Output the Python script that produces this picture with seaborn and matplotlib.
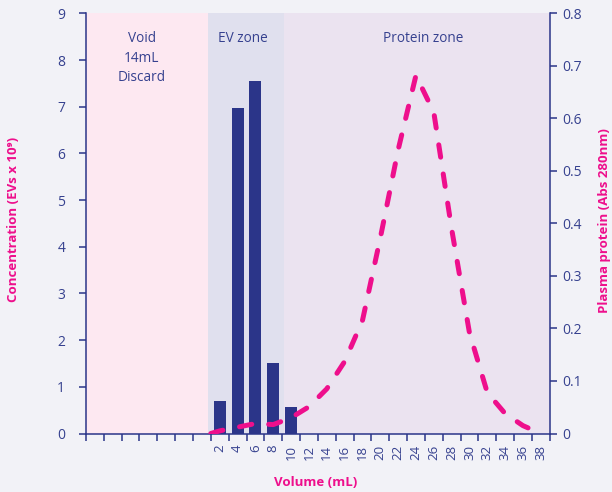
import matplotlib
matplotlib.use("Agg")
import matplotlib.pyplot as plt
import seaborn as sns
import pandas as pd

# ── Data ───────────────────────────────────────────────────────────────────────
bar_volume = [2, 4, 6, 8, 10]
bar_conc   = [0.69, 6.97, 7.55, 1.50, 0.56]

curve_volume  = [1, 2, 4, 6, 8, 10, 12, 14, 16, 18, 20, 22, 24, 26, 28, 30, 32, 34, 36, 38]
curve_protein = [0.0, 0.005, 0.012, 0.019, 0.017, 0.030, 0.051, 0.085, 0.137, 0.215,
                 0.372, 0.540, 0.682, 0.612, 0.390, 0.192, 0.078, 0.038, 0.015, 0.0]

tick_labels = [str(v) for v in range(2, 40, 2)]
left_ticks  = list(range(0, 10))
right_ticks = [0, 0.1, 0.2, 0.3, 0.4, 0.5, 0.6, 0.7, 0.8]
right_tick_labels = ["0", "0.1", "0.2", "0.3", "0.4", "0.5", "0.6", "0.7", "0.8"]

zones = [("Void\n14mL\nDiscard", -13, 0.68, "#fde8f1"),
         ("EV zone", 0.68, 9.17, "#e0e0ee"),
         ("Protein zone", 9.17, 39, "#ebe3f0")]
zone_text_x = [-6.75, 4.6, 24.8]

# ── Style ──────────────────────────────────────────────────────────────────────
NAVY  = "#2b3589"
TEXT  = "#36418f"
PINK  = "#ee0f8c"
BG    = "#f2f2f7"

sns.set_style("white")
plt.rcParams["font.family"] = ["Open Sans", "DejaVu Sans"]

fig = plt.figure(figsize=(6.12, 4.92), dpi=100, facecolor=BG)
ax = fig.add_axes([0.1405, 0.1189, 0.7577, 0.8537])
ax.set_facecolor("none")
ax2 = ax.twinx()

# zones
for (label, x0, x1, col), tx in zip(zones, zone_text_x):
    ax.axvspan(x0, x1, color=col, zorder=0, lw=0)
    ax.text(tx, 0.958, label, transform=ax.get_xaxis_transform(),
            ha="center", va="top", color=TEXT, fontsize=9.8, linespacing=1.4)

# bars
df_bar = pd.DataFrame({"volume": bar_volume, "conc": bar_conc})
sns.barplot(data=df_bar, x="volume", y="conc", native_scale=True, width=0.675,
            color=NAVY, saturation=1, linewidth=0, ax=ax, zorder=2)

# protein curve
df_curve = pd.DataFrame({"volume": curve_volume, "protein": curve_protein})
sns.lineplot(data=df_curve, x="volume", y="protein", ax=ax2, color=PINK,
             linewidth=3.6, linestyle=(0, (2.5, 3.4)), dash_capstyle="round",
             solid_capstyle="round", zorder=3)

# ── Axes ───────────────────────────────────────────────────────────────────────
ax.set_xlim(-13, 39)
ax.set_ylim(0, 9)
ax2.set_ylim(0, 0.8)

ax.set_xticks(list(range(-13, 40, 2)))
ax.set_xticklabels([])
ax.set_xticks(list(range(2, 40, 2)), minor=True)
ax.set_xticklabels(tick_labels, minor=True, rotation=90)
ax.tick_params(axis="x", which="major", direction="out", length=5, width=1.1,
               color=NAVY, bottom=True)
ax.tick_params(axis="x", which="minor", length=0, pad=8, labelsize=9.5,
               labelcolor=TEXT)

ax.set_yticks(left_ticks)
ax.tick_params(axis="y", direction="out", length=5, width=1.1, color=NAVY,
               left=True, pad=10, labelsize=10, labelcolor=TEXT)
ax2.set_yticks(right_ticks)
ax2.set_yticklabels(right_tick_labels)
ax2.tick_params(axis="y", direction="out", length=5, width=1.1, color=NAVY,
                right=True, pad=4, labelsize=10, labelcolor=TEXT)

for a in (ax, ax2):
    a.set_xlabel("")
    a.set_ylabel("")
    a.spines["top"].set_visible(False)
    for side in ("left", "right", "bottom"):
        a.spines[side].set_color(NAVY)
        a.spines[side].set_linewidth(1.1)
ax.spines["right"].set_visible(False)
ax2.spines["left"].set_visible(False)
ax2.spines["bottom"].set_visible(False)

fig.text(0.022, 0.553, "Concentration (EVs x 10⁹)", rotation=90, ha="center",
         va="center", color=PINK, fontsize=9.5, fontweight="bold")
fig.text(0.987, 0.551, "Plasma protein (Abs 280nm)", rotation=90, ha="center",
         va="center", color=PINK, fontsize=9.5, fontweight="bold")
fig.text(0.515, 0.02, "Volume (mL)", ha="center", va="center", color=PINK,
         fontsize=9.5, fontweight="bold")

fig.savefig("out.png", dpi=100, facecolor=BG)
